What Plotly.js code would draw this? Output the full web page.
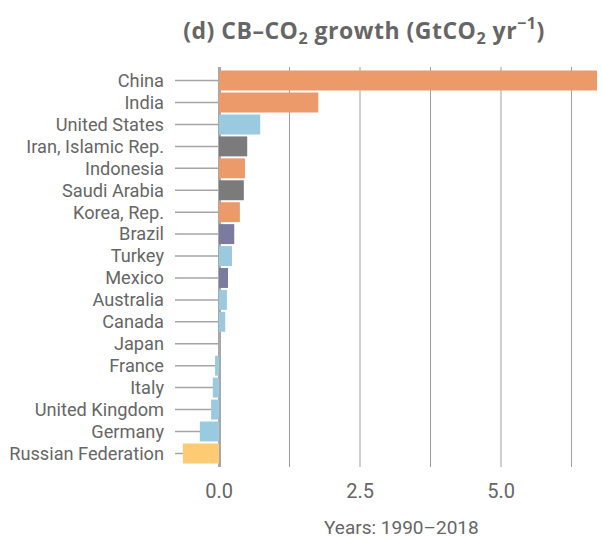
<!DOCTYPE html>
<html>
<head>
<meta charset="utf-8">
<script src="https://cdn.plot.ly/plotly-3.0.1.min.js"></script>
<style>
html,body{margin:0;padding:0;background:#fff;}
#chart{width:602px;height:540px;}
#chart .gtitle{letter-spacing:0.5px;}
</style>
</head>
<body>
<div id="chart"></div>
<script>
// Data
const countries = ["China","India","United States","Iran, Islamic Rep.","Indonesia","Saudi Arabia","Korea, Rep.","Brazil","Turkey","Mexico","Australia","Canada","Japan","France","Italy","United Kingdom","Germany","Russian Federation"];
const growth = [7.2, 1.76, 0.73, 0.50, 0.46, 0.44, 0.37, 0.27, 0.23, 0.16, 0.14, 0.11, 0.0, -0.07, -0.11, -0.14, -0.34, -0.64];
const groups = ["asia","asia","dev","me","asia","me","asia","lam","dev","lam","dev","dev","dev","dev","dev","dev","dev","eit"];
const groupColors = {asia:"#EC9A6A", dev:"#9ACAE0", me:"#7B7B7B", lam:"#7B7A9F", eit:"#FDCB74"};
const xTickVals = [0, 2.5, 5.0];
const xTickText = ["0.0","2.5","5.0"];

const grey = "#666666";
const font = "Roboto, 'Open Sans', sans-serif";
const titleFont = "'Open Sans', Roboto, sans-serif";

const trace = {
  type: "bar",
  orientation: "h",
  y: countries,
  x: growth,
  marker: {color: groups.map(g => groupColors[g]), line: {width: 0}},
  hoverinfo: "x+y",
  cliponaxis: true
};

// leader lines from label area to the zero line, one per category
const shapes = countries.map(c => ({
  type: "line", layer: "below",
  xref: "paper", yref: "y",
  x0: 0, x1: 0.104, y0: c, y1: c,
  line: {color: "#A5A5A5", width: 1.5}
}));

const layout = {
  width: 602, height: 540,
  margin: {l: 175, r: 5, t: 67, b: 73},
  paper_bgcolor: "#fff", plot_bgcolor: "#fff",
  bargap: 0.09,
  showlegend: false,
  font: {family: font, color: grey},
  title: {
    text: "<b>(d) CB–CO<sub>2</sub> growth (GtCO<sub>2</sub> yr<sup>−1</sup>)</b>",
    font: {family: titleFont, size: 23, color: grey},
    x: 364/602, xanchor: "center", xref: "container",
    y: 1 - 31/540, yanchor: "middle", yref: "container"
  },
  xaxis: {
    range: [-0.78, 6.70],
    tickvals: xTickVals, ticktext: xTickText,
    ticks: "", ticklabelstandoff: 10,
    tickfont: {family: font, size: 20, color: grey},
    showgrid: true, gridcolor: "#CFCFCF", gridwidth: 2,
    minor: {dtick: 1.25, tick0: 0, showgrid: true, gridcolor: "#9E9E9E", gridwidth: 1, ticks: ""},
    zeroline: true, zerolinecolor: "#A8A8A8", zerolinewidth: 3,
    showline: false, fixedrange: true
  },
  yaxis: {
    type: "category",
    categoryorder: "array", categoryarray: countries,
    tickmode: "array", tickvals: countries, ticktext: countries,
    range: [17.62, -0.62],
    ticks: "", ticklabelstandoff: 10,
    tickfont: {family: font, size: 18.2, color: grey},
    showgrid: false, zeroline: false, showline: false, fixedrange: true
  },
  shapes: shapes,
  annotations: [{
    text: "Years: 1990–2018",
    xref: "paper", yref: "paper",
    x: (401 - 175) / 422, y: -(527 - 467) / 400,
    xanchor: "center", yanchor: "middle",
    showarrow: false,
    font: {family: font, size: 19, color: grey}
  }]
};

Plotly.newPlot("chart", [trace], layout, {displayModeBar: false, staticPlot: true});
</script>
</body>
</html>
